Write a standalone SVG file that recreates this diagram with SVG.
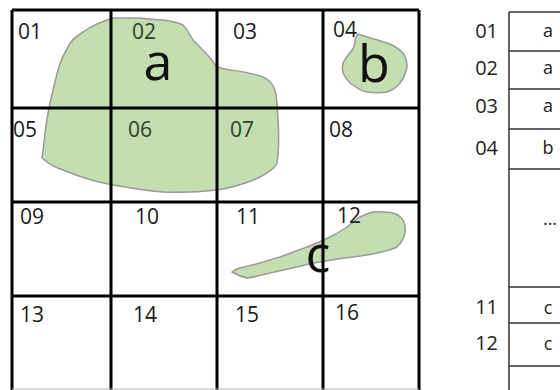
<svg xmlns="http://www.w3.org/2000/svg" width="560" height="390" viewBox="0 0 560 390">
<style>
.num{font-family:"Open Sans","Liberation Sans",sans-serif;font-size:21px;fill:#1a1a1a}
.in{fill:#2b4128}
.big{font-family:"Open Sans","Liberation Sans",sans-serif;font-size:52px;fill:#111;text-anchor:middle}
.blob{fill:#c3deb0;stroke:#9a9a9a;stroke-width:1.5;stroke-linejoin:round}
.grid{stroke:#000;stroke-width:3;fill:none}
.tl{stroke:#333;stroke-width:1.5;fill:none}
.tnum{font-family:"Open Sans","Liberation Sans",sans-serif;font-size:20px;fill:#222;text-anchor:end}
.tval{font-family:"Open Sans","Liberation Sans",sans-serif;font-size:18px;fill:#222;text-anchor:middle}
</style>
<rect width="560" height="390" fill="#fff"/>
<g id="region-a">
<path class="blob" d="M113,18 C100,22 90,27 83,32 C75,37 70,42 68,47 C62,57 60,62 58,70 C54,85 52,95 50,103 C47,118 46,125 45,133 C44,145 43,152 42,158 C50,165 56,168 63,170 C80,177 95,182 113,185 C130,188 145,191 163,192 C185,193 200,192 217,190 C235,187 248,183 260,177 C270,172 275,168 277,163 C279,150 279,135 278,120 C277,105 277,97 275,90 C272,82 268,79 263,77 C252,73 240,71 230,70 C224,69 220,68 217,67 C215,65 213,62 212,60 C205,52 198,45 193,40 C189,33 186,28 183,25 C177,22 170,21 163,20 C150,19 140,18 137,18 Z"/>
</g>
<g id="region-b">
<path class="blob" d="M358,34 C356,37 355,38 355,40 C355,45 354,48 352,50 C348,55 345,59 343,63 C342,67 342,70 343,73 C346,79 349,83 353,85 C358,89 362,91 367,92 C374,93 381,93 387,92 C393,90 397,87 400,83 C404,78 406,72 407,67 C407,61 406,57 403,53 C398,48 393,45 387,43 C381,41 375,39 370,38 C365,36 361,35 358,34 Z"/>
</g>
<g id="region-c">
<path class="blob" d="M232,272 C237,275 242,277 247,278 C255,277 262,275 270,273 C279,271 288,269 297,267 C305,265 312,263 320,262 C331,260 342,258 353,257 C361,256 369,255 377,253 C385,251 392,250 397,247 C402,242 404,238 405,233 C406,228 405,224 403,220 C400,216 397,214 393,213 C386,212 379,211 373,212 C368,213 364,215 360,217 C355,220 351,224 347,227 C341,231 336,234 330,237 C322,241 315,244 307,247 C298,250 289,254 280,257 C273,259 266,261 260,263 C253,265 247,266 240,268 C237,269 234,270 232,272 Z"/>
</g>
<g id="cell-labels">
<text class="num" x="18" y="39">01</text>
<text class="num in" x="132" y="39">02</text>
<text class="num" x="233" y="39">03</text>
<text class="num" x="333" y="37">04</text>
<text class="num" x="13" y="137">05</text>
<text class="num in" x="128" y="137">06</text>
<text class="num in" x="230" y="137">07</text>
<text class="num" x="329" y="137">08</text>
<text class="num" x="20" y="224">09</text>
<text class="num" x="135" y="224">10</text>
<text class="num" x="236" y="224">11</text>
<text class="num" x="337" y="223">12</text>
<text class="num" x="20" y="322">13</text>
<text class="num" x="133" y="322">14</text>
<text class="num" x="235" y="322">15</text>
<text class="num" x="335" y="320">16</text>
</g>
<g id="grid">
<path class="grid" d="M12,10 V390 M111,10 V390 M217,10 V390 M323,10 V390 M419,10 V390 M12,10 H419 M12,108 H419 M12,202 H419 M12,296 H419"/>
<path d="M12,389 H419" stroke="#bbb" stroke-width="1"/>
</g>
<g id="region-letters">
<text class="big" x="158" y="80">a</text>
<text class="big" x="374" y="82">b</text>
<text class="big" x="318" y="272">c</text>
</g>
<g id="table">
<path class="tl" d="M509,12 V390 M509,12 H560 M509,51 H560 M509,89 H560 M509,129 H560 M509,169 H560 M509,287 H560 M509,323 H560 M509,366 H560"/>
<text class="tnum" x="498" y="38">01</text>
<text class="tnum" x="498" y="75">02</text>
<text class="tnum" x="498" y="113">03</text>
<text class="tnum" x="498" y="155">04</text>
<text class="tnum" x="498" y="314">11</text>
<text class="tnum" x="498" y="350">12</text>
<text class="tval" x="548" y="37">a</text>
<text class="tval" x="548" y="74">a</text>
<text class="tval" x="548" y="112">a</text>
<text class="tval" x="548" y="154">b</text>
<text class="tval" x="550" y="225">...</text>
<text class="tval" x="548" y="314">c</text>
<text class="tval" x="548" y="350">c</text>
</g>
</svg>
